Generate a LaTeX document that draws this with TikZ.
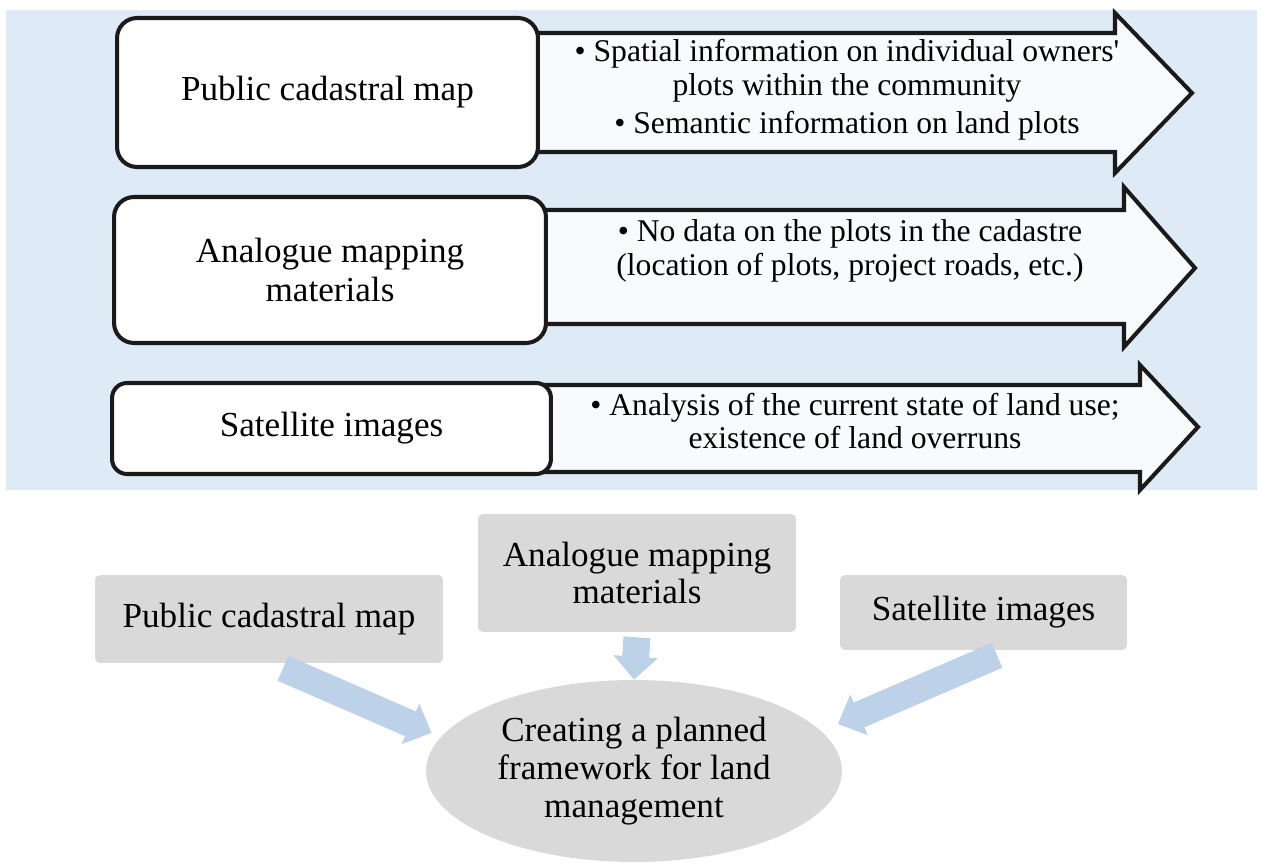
\documentclass[tikz,border=0pt]{standalone}
\usepackage{fontspec}
\setmainfont{Liberation Serif}
\definecolor{bgblue}{RGB}{222,234,246}
\definecolor{arrowfill}{RGB}{248,250,253}
\definecolor{boxgray}{RGB}{217,217,217}
\definecolor{flowblue}{RGB}{189,209,233}
\definecolor{edgeblack}{RGB}{26,26,26}
\usetikzlibrary{arrows.meta,positioning,shapes.geometric}

\tikzset{
  srcbox/.style={draw=edgeblack, line width=2.3pt, fill=white, rounded corners=0.4cm, align=center, font=\fontsize{20}{22}\selectfont},
  infoarrow/.style={draw=edgeblack, line width=2.3pt, fill=arrowfill, line join=miter},
  infotext/.style={align=center, font=\fontsize{18}{19}\selectfont},
  graybox/.style={fill=boxgray, rounded corners=0.1cm, align=center, font=\fontsize{20}{21.5}\selectfont},
  flowarrow/.style={draw=flowblue, line width=0.54cm, -{Triangle[length=0.46cm, width=0.86cm]}}
}

\begin{document}
\begin{tikzpicture}[x=0.02cm, y=-0.02cm]
  \useasboundingbox (0,0) rectangle (1261,865);

  % Background panel
  \fill[bgblue] (6,10) rectangle (1257,490);

  % Row 1: Public cadastral map
  \draw[infoarrow] (450,33) -- (1115,33) -- (1115,13) -- (1192,93) -- (1115,173) -- (1115,152) -- (450,152) -- cycle;
  \node[srcbox, minimum width=8.42cm, minimum height=2.98cm] (pcm) at (327.5,92.5) {Public cadastral map};
  \node[infotext] (pcmInfo) at (847,90) {\textbullet{} Spatial information on individual owners\textquotesingle\\ plots within the community\\[3pt] \textbullet{} Semantic information on land plots};

  % Row 2: Analogue mapping materials
  \draw[infoarrow] (450,210) -- (1124,210) -- (1124,187) -- (1195,268) -- (1124,347) -- (1124,324) -- (450,324) -- cycle;
  \node[srcbox, minimum width=8.64cm, minimum height=2.92cm] (amm) at (330,270) {Analogue mapping\\ materials};
  \node[infotext] (ammInfo) at (850,251) {\textbullet{} No data on the plots in the cadastre\\ (location of plots, project roads, etc.)};

  % Row 3: Satellite images
  \draw[infoarrow] (450,385) -- (1140,385) -- (1140,365) -- (1198,427) -- (1140,490) -- (1140,472) -- (450,472) -- cycle;
  \node[srcbox, rounded corners=0.3cm, minimum width=8.78cm, minimum height=1.82cm] (sat) at (331.5,428.5) {Satellite images};
  \node[infotext] (satInfo) at (855,421) {\textbullet{} Analysis of the current state of land use;\\ existence of land overruns};

  % Lower part: sources and goal
  \node[graybox, minimum width=6.96cm, minimum height=1.76cm] (pcmB) at (269,619) {Public cadastral map};
  \node[graybox, minimum width=6.36cm, minimum height=2.36cm] (ammB) at (637,573) {Analogue mapping\\ materials};
  \node[graybox, minimum width=5.74cm, minimum height=1.5cm] (satB) at (983.5,612.5) {Satellite images};
  \node[ellipse, fill=boxgray, inner sep=0pt, minimum width=8.32cm, minimum height=3.64cm, align=center, font=\fontsize{20}{21.5}\selectfont] (goal) at (634,771) {Creating a planned\\ framework for land\\ management};

  \draw[flowarrow, shorten >=0.2cm] ([xshift=0.28cm, yshift=-0.1cm]pcmB.south) -- (goal.170);
  \draw[flowarrow] ([yshift=-0.1cm]ammB.south) -- (goal.north);
  \draw[flowarrow, shorten >=0.36cm] ([xshift=0.27cm, yshift=-0.1cm]satB.south) -- (goal.12);
\end{tikzpicture}
\end{document}
